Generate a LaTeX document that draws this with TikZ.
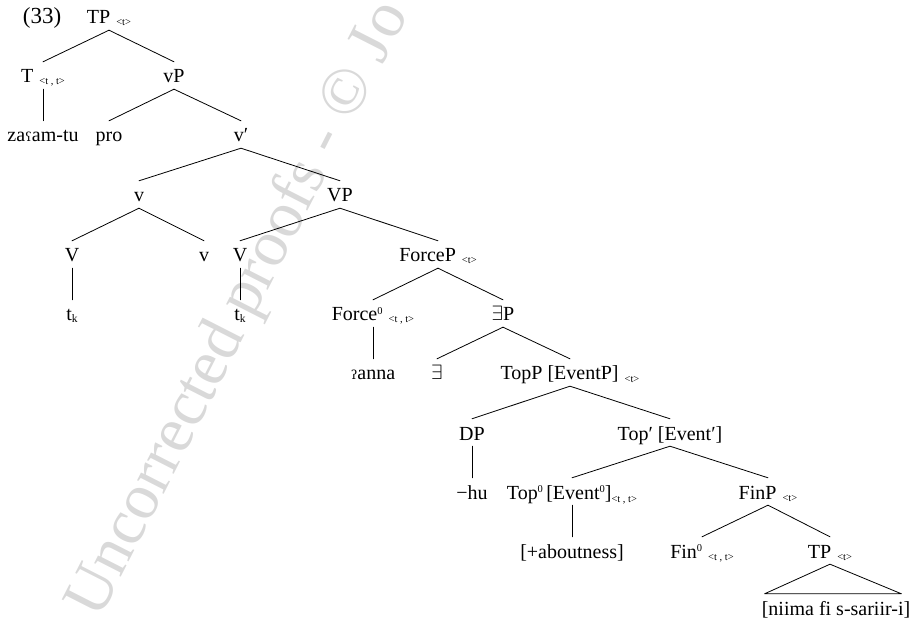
\documentclass[tikz,border=0pt]{standalone}
\usepackage{fontspec}
\setmainfont{Liberation Serif}
\newfontfamily\ipafont{DejaVu Serif}

% small type labels, zero bar-level, trace index, IPA letters
\newcommand\tsub[1]{\hspace{6pt}\raisebox{-2pt}{\fontsize{10.5}{10.5}\selectfont #1}}
\newcommand\tsubtight[1]{\raisebox{-3pt}{\fontsize{10.5}{10.5}\selectfont #1}}
\newcommand\zer{\raisebox{6.5pt}{\fontsize{10.5}{10.5}\selectfont 0}}
\newcommand\trk{t\raisebox{-2pt}{\fontsize{11.5}{11.5}\selectfont k}}
\newcommand\ayn{{\ipafont\fontsize{12.5}{12.5}\selectfont ʕ}}
\newcommand\glot{{\ipafont\fontsize{12.5}{12.5}\selectfont ʔ}}

\begin{document}
\begin{tikzpicture}[x=1pt, y=-1pt,
  tree/.style={anchor=base, inner xsep=0pt, inner ysep=6pt,
               text height=15pt, text depth=0pt,
               font=\fontsize{20}{23}\selectfont},
  branch/.style={line width=0.8pt, line cap=round}]
\useasboundingbox (0,0) rectangle (916,620);

% watermark
\begin{scope}
  \clip (0,0) rectangle (916,620);
  \node[rotate=63, text=gray!30, inner sep=0pt,
        font=\fontsize{65}{65}\selectfont] (wm) at (240,310)
        {Uncorrected proofs - © Jo};
\end{scope}

% example number
\node[tree, font=\fontsize{23}{26}\selectfont] (ex) at (42,24) {(33)};

% rows (baselines)
\node[tree] (tp)   at (109,24) {TP\tsub{<t>}};

\node[tree] (t)    at (43,83)  {T\tsub{<t , t>}};
\node[tree] (vp)   at (174,83) {vP};

\node[tree] (zaam) at (43,142) {za\ayn am-tu};
\node[tree] (pro)  at (109,142) {pro};
\node[tree] (vbar) at (241,142) {v′};

\node[tree] (vh)   at (139,202) {v};
\node[tree] (VP)   at (340,202) {VP};

\node[tree] (V1)   at (72,262)  {V};
\node[tree] (vv)   at (204,262) {v};
\node[tree] (V2)   at (240,262) {V};
\node[tree] (force) at (438,262) {ForceP\tsub{<t>}};

\node[tree] (tk1)  at (72,321)  {\trk};
\node[tree] (tk2)  at (240,321) {\trk};
\node[tree] (f0)   at (373,321) {Force\zer\tsub{<t , t>}};
\node[tree] (ep)   at (503,321) {$\exists$P};

\node[tree] (anna) at (373,380) {\glot anna};
\node[tree] (ex3)  at (437,380) {$\exists$};
\node[tree] (topp) at (570,380) {TopP [EventP]\tsub{<t>}};

\node[tree] (dp)   at (472,440) {DP};
\node[tree] (topb) at (670,440) {Top′ [Event′]};

\node[tree] (hu)   at (472,499) {−hu};
\node[tree] (top0) at (572,499) {Top\zer\,[Event\zer]\tsubtight{<t , t>}};
\node[tree] (finp) at (768,499) {FinP\tsub{<t>}};

\node[tree] (about) at (572,558) {[+aboutness]};
\node[tree] (fin0) at (702,558) {Fin\zer\tsub{<t , t>}};
\node[tree] (tpb)  at (830,558) {TP\tsub{<t>}};

\node[tree] (brk)  at (836,615) {[niima fi s-sariir-i]};

% branches
\draw[branch] (tp.south) -- (t.north);
\draw[branch] (tp.south) -- (vp.north);
\draw[branch] (t.south) -- (zaam.north);
\draw[branch] (vp.south) -- (pro.north);
\draw[branch] (vp.south) -- (vbar.north);
\draw[branch] (vbar.south) -- (vh.north);
\draw[branch] (vbar.south) -- (VP.north);
\draw[branch] (vh.south) -- (V1.north);
\draw[branch] (vh.south) -- (vv.north);
\draw[branch] (V1.south) -- (tk1.north);
\draw[branch] (VP.south) -- (V2.north);
\draw[branch] (VP.south) -- (force.north);
\draw[branch] (V2.south) -- (tk2.north);
\draw[branch] (force.south) -- (f0.north);
\draw[branch] (force.south) -- (ep.north);
\draw[branch] (f0.south) -- (anna.north);
\draw[branch] (ep.south) -- (ex3.north);
\draw[branch] (ep.south) -- (topp.north);
\draw[branch] (topp.south) -- (dp.north);
\draw[branch] (topp.south) -- (topb.north);
\draw[branch] (dp.south) -- (hu.north);
\draw[branch] (topb.south) -- (top0.north);
\draw[branch] (topb.south) -- (finp.north);
\draw[branch] (top0.south) -- (about.north);
\draw[branch] (finp.south) -- (fin0.north);
\draw[branch] (finp.south) -- (tpb.north);
\draw[branch, line join=round] (tpb.south) -- ([xshift=3pt]brk.north west)
      -- ([xshift=-9pt]brk.north east) -- cycle;
\end{tikzpicture}
\end{document}
